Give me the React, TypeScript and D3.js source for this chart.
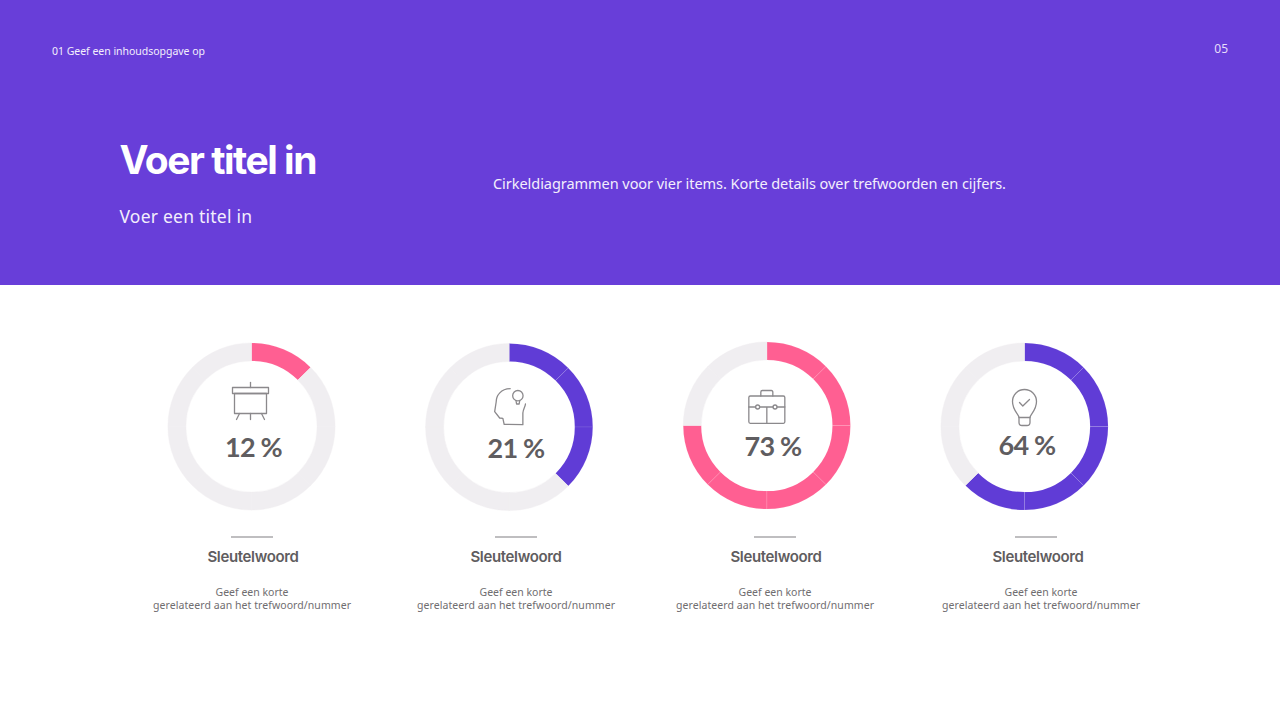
import * as d3 from 'd3';

// eight equal segments per ring, the filled count is what the picture shows
const percentLabels = ['12 %', '21 %', '73 %', '64 %'];
const filledSegments = [1, 3, 6, 5];
const ringColors = ['#ff5f92', '#603cd6', '#ff5f92', '#603cd6'];
const segmentCount = 8;
const keywords = ['Sleutelwoord', 'Sleutelwoord', 'Sleutelwoord', 'Sleutelwoord'];
const detailLine1 = 'Geef een korte';
const detailLine2 = 'gerelateerd aan het trefwoord/nummer';

const WIDTH = 1280;
const HEIGHT = 720;
const PURPLE = '#683ed9';
const TRACK = '#f0eef1';
const GREY = '#5f5d60';
const BODY = "'Noto Sans', sans-serif";
const TITLE = "Inter, sans-serif";

const ringY = [426.5, 427, 425.5, 426.5];
const labelX = [253.5, 516, 773, 1027];
const labelY = [456.5, 457.5, 456, 455];
const keywordX = [253, 516, 776, 1038];
const ruleX = [252, 516, 775, 1036];
const detailX = [252, 516, 775, 1041];

const x = d3.scalePoint<number>().domain(d3.range(4)).range([251.5, 1024.5]);

const pie = d3.pie<number>().value(1).sort(null);
const arc = d3.arc<d3.PieArcDatum<number>>().innerRadius(65.6).outerRadius(83.6);

function Icon({ index }: { index: number }) {
  const line = { fill: 'none', stroke: '#8b898c', strokeWidth: 1.3, strokeLinecap: 'round' as const, strokeLinejoin: 'round' as const };
  if (index === 0) {
    return (
      <g {...line}>
        <path d="M-1,-44V-39" />
        <rect x={-19} y={-39} width={36} height={6} />
        <rect x={-17} y={-33} width={32} height={20} />
        <path d="M-1,-13V-7M-12,-13L-15,-7M10,-13L13,-7" />
      </g>
    );
  }
  if (index === 1) {
    return (
      <g {...line}>
        <path d="M1,-38.3C-8,-38 -13,-32 -13,-25L-14.5,-15.3L-9.5,-9L-6.3,-8.7L-5,-2.7L13.7,-2.3L13.7,-14C14,-18 16,-20 16.3,-23" />
        <circle cx={8.7} cy={-31.3} r={5.2} />
        <path d="M6.8,-26.5L7.4,-23H10L10.6,-26.5" />
      </g>
    );
  }
  if (index === 2) {
    return (
      <g {...line}>
        <rect x={-18} y={-29.5} width={36} height={27.3} rx={1.5} />
        <path d="M-6,-29.5V-33.5Q-6,-35 -4.5,-35H4.5Q6,-35 6,-33.5V-29.5" />
        <path d="M-18,-18.5H-11.2M-7.2,-18.5H6.2M10.2,-18.5H18M0,-18.5V-2.2" />
        <circle cx={-9.2} cy={-18.5} r={2} />
        <circle cx={8.2} cy={-18.5} r={2} />
      </g>
    );
  }
  return (
    <g {...line}>
      <path d="M-5.5,-9C-5.5,-12 -12,-16 -12,-25A12,12 0 0 1 12,-25C12,-16 5.5,-12 5.5,-9V-4Q5.5,-1 2.5,-1H-2.5Q-5.5,-1 -5.5,-4Z" />
      <path d="M-5.5,-9H5.5" />
      <path d="M-5,-24L-1.7,-20.5L5,-27" />
    </g>
  );
}

export default function App() {
  return (
    <svg width={WIDTH} height={HEIGHT} style={{ position: 'fixed', left: 0, top: 0, background: '#fff' }}>
      <rect width={WIDTH} height={285} fill={PURPLE} />
      <text x={52} y={55} fontFamily={BODY} fontSize={10.5} fill="#f3eefc" textLength={153}>01 Geef een inhoudsopgave op</text>
      <text x={1228} y={53} textAnchor="end" fontFamily={BODY} fontSize={12} fill="#e6ddfa">05</text>
      <text x={119.5} y={174} fontFamily={TITLE} fontSize={39} fontWeight={700} fill="#fff" textLength={198}>Voer titel in</text>
      <text x={119.5} y={223} fontFamily={BODY} fontSize={17.5} fill="#f3eefc" textLength={132.5}>Voer een titel in</text>
      <text x={493} y={189} fontFamily={BODY} fontSize={14.5} fill="#f3eefc" textLength={513}>Cirkeldiagrammen voor vier items. Korte details over trefwoorden en cijfers.</text>

      {percentLabels.map((label, i) => {
        const cx = x(i) as number;
        return (
          <g key={i}>
            <g transform={`translate(${cx},${ringY[i]})`}>
              {pie(d3.range(segmentCount).map(() => 1)).map((d, s) => (
                <path key={s} d={arc(d) as string} fill={s < filledSegments[i] ? ringColors[i] : TRACK}
                  stroke={s < filledSegments[i] ? '#ffffff' : TRACK} strokeOpacity={s < filledSegments[i] ? 0.22 : 1} strokeWidth={0.4} />
              ))}
              <Icon index={i} />
            </g>
            <text x={labelX[i]} y={labelY[i]} textAnchor="middle" fontFamily="Lato, sans-serif" fontWeight={700} fontSize={27} letterSpacing={-0.8} fill={GREY}>{label}</text>
            <line x1={ruleX[i] - 21} x2={ruleX[i] + 21} y1={537} y2={537} stroke="#aaa8ab" strokeWidth={1.4} />
            <text x={keywordX[i]} y={561.5} textAnchor="middle" fontFamily={TITLE} fontWeight={600} fontSize={15} letterSpacing={-0.35} fill={GREY}>{keywords[i]}</text>
            <text x={detailX[i]} y={595.5} textAnchor="middle" fontFamily={BODY} fontSize={10.5} fill="#6f6d70">{detailLine1}</text>
            <text x={detailX[i]} y={609} textAnchor="middle" fontFamily={BODY} fontSize={10.5} fill="#6f6d70" textLength={198}>{detailLine2}</text>
          </g>
        );
      })}
    </svg>
  );
}
